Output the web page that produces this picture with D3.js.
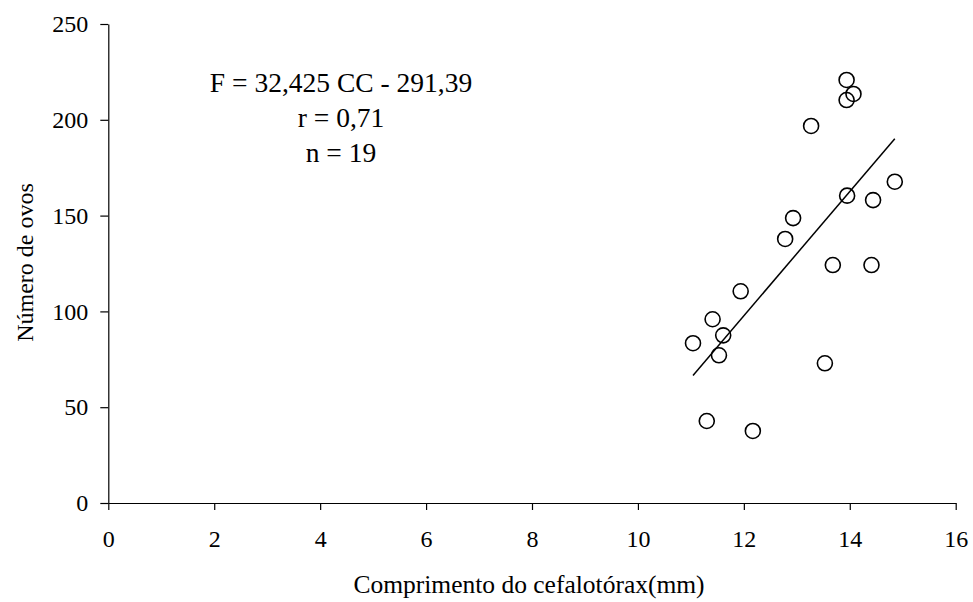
<!DOCTYPE html>
<html><head><meta charset="utf-8">
<script src="https://cdn.jsdelivr.net/npm/d3@7"></script>
<style>body{margin:0;background:#fff}svg{display:block}text{font-family:"Liberation Serif","Times New Roman",serif;fill:#000}</style>
</head><body>
<svg id="c" width="973" height="602"></svg>
<script>
const comprimento = [13.94,14.07,13.94,13.27,14.85,13.95,14.44,12.93,12.78,13.68,14.41,11.94,11.41,11.61,11.04,11.53,13.53,11.30,12.17];
const ovos = [220.8,213.5,210.3,196.8,167.7,160.4,158.1,148.7,137.8,124.2,124.2,110.5,95.9,87.5,83.4,77.1,72.9,42.8,37.6];
const xTicks = [0,2,4,6,8,10,12,14,16];
const yTicks = [0,50,100,150,200,250];
const slope = 32.425, intercept = -291.39;
const annot = ["F = 32,425 CC - 291,39","r = 0,71","n = 19"];

const svg = d3.select("#c");
const x = d3.scaleLinear().domain([0,16]).range([108.3,955.7]);
const y = d3.scaleLinear().domain([0,250]).range([503,24]);

const gx = svg.append("g").attr("transform",`translate(0,${y(0)})`)
  .call(d3.axisBottom(x).tickValues(xTicks).tickSize(7).tickPadding(37).tickSizeOuter(0));
const gy = svg.append("g").attr("transform",`translate(${x(0)},0)`)
  .call(d3.axisLeft(y).tickValues(yTicks).tickSize(8).tickPadding(12).tickSizeOuter(0));
[gx,gy].forEach(g=>{
  g.attr("font-family",null).attr("font-size",null);
  g.selectAll("text").style("font-size","24px").style("font-family","'Liberation Serif',serif").attr("fill","#000");
  g.selectAll("line,path").attr("stroke","#000").attr("stroke-width",1.2);
});
gx.selectAll("text").attr("dy","0");
gy.selectAll("text").attr("dy","0.32em");

const data = comprimento.map((c,i)=>({c, o: ovos[i]}));
const xmin = d3.min(comprimento), xmax = d3.max(comprimento);
svg.append("line")
  .attr("x1",x(xmin)).attr("y1",y(slope*xmin+intercept))
  .attr("x2",x(xmax)).attr("y2",y(slope*xmax+intercept))
  .attr("stroke","#000").attr("stroke-width",1.5);

svg.append("g").selectAll("circle").data(data).join("circle")
  .attr("cx",d=>x(d.c)).attr("cy",d=>y(d.o)).attr("r",7.5)
  .attr("fill","none").attr("stroke","#000").attr("stroke-width",1.6);

svg.append("g").selectAll("text").data(annot).join("text")
  .attr("x",341).attr("y",(d,i)=>91.7+i*35)
  .attr("text-anchor","middle").style("font-size","27.5px").text(d=>d);

svg.append("text").attr("x",529).attr("y",593).attr("text-anchor","middle")
  .style("font-size","25.5px").text("Comprimento do cefalotórax(mm)");
svg.append("text").attr("transform","translate(33,262.5) rotate(-90)").attr("text-anchor","middle")
  .style("font-size","24px").text("Número de ovos");
</script>
</body></html>
